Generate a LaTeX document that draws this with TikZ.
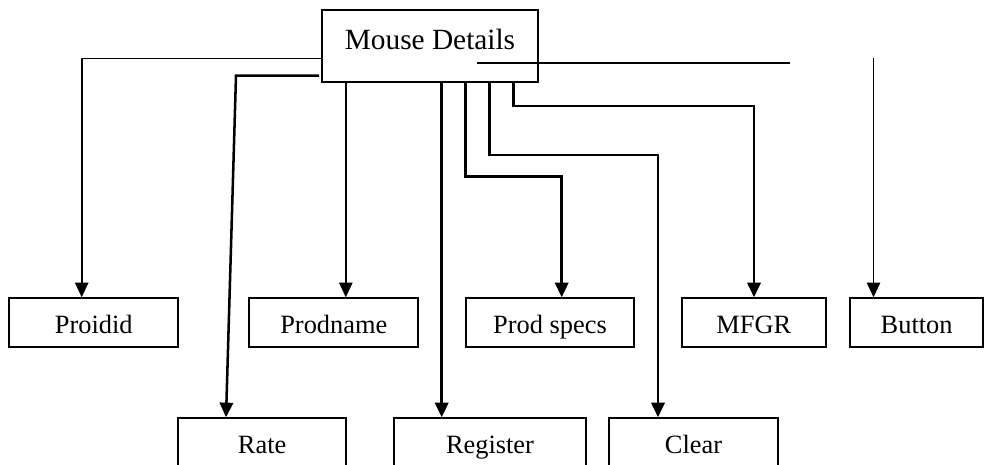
\documentclass[tikz,border=0pt]{standalone}
\usepackage{fontspec}
\setmainfont{Liberation Serif}
\usetikzlibrary{arrows.meta}

\tikzset{
  item/.style={draw, line width=1.5pt, inner xsep=0pt, inner ysep=0pt,
    minimum height=36.3pt, text height=26.25pt, text depth=10pt,
    font=\fontsize{19.8}{22}\selectfont},
  link/.style={line width=1.9pt, -{Triangle[length=11pt,width=10pt]}},
  thinlink/.style={line width=1.2pt, -{Triangle[length=11pt,width=10pt]}},
}

\begin{document}
\begin{tikzpicture}[x=0.75pt, y=-0.75pt]
                \useasboundingbox (0,0) rectangle (984,464);

                % Mouse Details box
                \node[item, minimum width=162.45pt, text height=29.5pt, text depth=24.3pt,
                  font=\fontsize{22}{26}\selectfont] (mouse) at (430,45.85) {Mouse Details};

                % First row
                \node[item, minimum width=126.75pt] (proidid) at (93.8,322.5) {Proidid};
                \node[item, minimum width=126.75pt] (prodname) at (333.8,322.5) {Prodname};
                \node[item, minimum width=126pt] (specs) at (550,322.5) {Prod specs};
                \node[item, minimum width=108.2pt] (mfgr) at (753.85,322.5) {MFGR};
                \node[item, minimum width=100pt] (button) at (916.65,322.5) {Button};

                % Second row
                \node[item, minimum width=126pt] (rate) at (262.15,442.5) {Rate};
                \node[item, minimum width=144pt] (register) at (490,442.5) {Register};
                \node[item, minimum width=126.3pt] (clear) at (693.5,442.5) {Clear};

                % Points on the Mouse Details box
                \coordinate (pl) at (321.7,58.3);
                \coordinate (rl) at (319,75.7);
                \coordinate (d2) at (345.8,81.7);
                \coordinate (d3) at (441.7,81.7);
                \coordinate (d4) at (465.7,81.7);
                \coordinate (d5) at (489.7,81.7);
                \coordinate (d6) at (513.7,81.7);

                % Bends
                \coordinate (b1) at (81.7,58.3);
                \coordinate (r1) at (236,75.7);
                \coordinate (b4) at (561.7,176.7);
                \coordinate (b5) at (658,155);
                \coordinate (b6) at (754,106);
                \coordinate (bt) at (873.5,58.3);

                % Loose line
                \coordinate (h1) at (477,62.5);
                \coordinate (h2) at (790,62.5);
                \draw[line width=1.5pt] (h1) -- (h2);

                % Arrows to the first row
                \draw[thinlink] (pl) -- (b1) -- (b1 |- proidid.north);
                \draw[thinlink] (d2) -- (d2 |- prodname.north);
                \draw[link] (d4) |- (b4) -- (b4 |- specs.north);
                \draw[link] (d6) |- (b6) -- (b6 |- mfgr.north);
                \draw[thinlink] (bt) -- (bt |- button.north);

                % Arrows to the second row
                \draw[link] (rl) -- (r1) -- ([xshift=-27.1pt]rate.north);
                \draw[link] (d3) -- (d3 |- register.north);
                \draw[link] (d5) |- (b5) -- (b5 |- clear.north);
\end{tikzpicture}
\end{document}
